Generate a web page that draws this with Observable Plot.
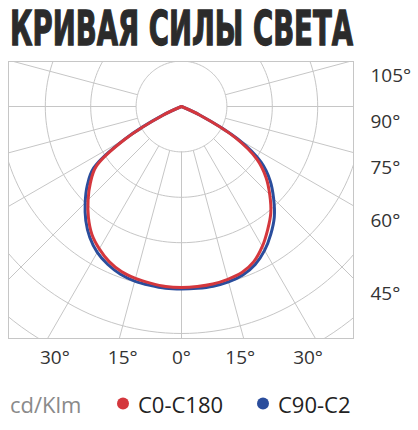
<!DOCTYPE html>
<html><head><meta charset="utf-8">
<script src="https://cdn.jsdelivr.net/npm/d3@7"></script>
<script src="https://cdn.jsdelivr.net/npm/@observablehq/plot@0.6"></script>
<style>
body{margin:0;background:#fff;}
svg{display:block}
</style></head><body>
<svg id="title" width="418" height="55"></svg>
<div id="chart"></div>
<svg id="legend" width="418" height="55"></svg>
<script>
// ---- data (cd/klm), angles from nadir in degrees ----
const titleText = "КРИВАЯ СИЛЫ СВЕТА";
const unitLabel = "cd/Klm";
const seriesNames = ["C0-C180", "C90-C2"];
const seriesColors = ["#d4373d", "#2a4d9c"];
const angles = [0, 5, 10, 15, 20, 25, 30, 35, 40, 45, 50, 55, 60, 65, 70];
const c0   = [398, 398, 397, 394, 389, 377, 356, 331, 306, 275, 243, 203, 137, 44, 0];
const c180 = [399, 398, 395, 392, 387, 377, 362, 344, 319, 291, 262, 229, 143, 44, 0];
const c90  = [402, 402, 402, 400, 395, 384, 366, 343, 318, 287, 255, 214, 143, 44, 0];
const c270 = [402, 402, 400, 398, 393, 384, 371, 352, 328, 300, 271, 236, 145, 44, 0];
const gridRadii = [100, 200, 300, 400, 500, 600, 700];
const spokeAngles = [-105, -90, -75, -60, -45, -30, -15, 0, 15, 30, 45, 60, 75, 90, 105];
const rightLabels = [105, 90, 75, 60, 45];
const bottomLabels = [-30, -15, 0, 15, 30];

const rad = Math.PI / 180;
const pol = (a, v) => ({x: v * Math.sin(a * rad), y: -v * Math.cos(a * rad)});

function curve(left, right) {
  const pts = [];
  for (let i = angles.length - 1; i >= 1; i--) pts.push(pol(-angles[i], left[i]));
  pts.push(pol(0, (left[0] + right[0]) / 2));
  for (let i = 1; i < angles.length; i++) pts.push(pol(angles[i], right[i]));
  return pts;
}
const redPts = curve(c180, c0);
const bluePts = curve(c270, c90);

const circles = gridRadii.flatMap(r => d3.range(0, 361, 2).map(t => ({r, ...pol(t, r)})));
const spokes = spokeAngles.map(a => ({a, p1: pol(a, 100), p2: pol(a, 900)}));

// scale: 100 cd/klm ring = 45.4 px
const k = 0.454;
const xDomain = [-173 / k, 172 / k];
const yDomain = [-232 / k, 45 / k];

const chart = Plot.plot({
  width: 418, height: 320,
  marginTop: 6, marginBottom: 37, marginLeft: 8, marginRight: 65,
  x: {domain: xDomain, axis: null},
  y: {domain: yDomain, axis: null},
  style: {fontFamily: "'Open Sans', sans-serif", background: "white", overflow: "visible"},
  marks: [
    Plot.line(circles, {x: "x", y: "y", z: "r", stroke: "#c6c6c6", strokeWidth: 1, clip: true}),
    Plot.link(spokes, {x1: d => d.p1.x, y1: d => d.p1.y, x2: d => d.p2.x, y2: d => d.p2.y, stroke: "#c6c6c6", strokeWidth: 1, clip: true}),
    Plot.frame({stroke: "#c6c6c6"}),
    Plot.line(bluePts, {x: "x", y: "y", stroke: seriesColors[1], strokeWidth: 3, curve: "catmull-rom", clip: true}),
    Plot.line(redPts, {x: "x", y: "y", stroke: seriesColors[0], strokeWidth: 3, curve: "catmull-rom", clip: true}),
    Plot.text(rightLabels, {
      x: () => xDomain[1],
      y: a => -xDomain[1] * Math.cos(a * rad) / Math.sin(a * rad),
      text: a => `${a}°`, textAnchor: "start", dx: 17, dy: 15, fontSize: 19, fill: "#333"
    }),
    Plot.text(bottomLabels, {
      x: a => -yDomain[0] * 0.945 * Math.tan(a * rad),
      y: () => yDomain[0],
      text: a => `${Math.abs(a)}°`, textAnchor: "middle", dy: 19, fontSize: 19, fill: "#333"
    })
  ]
});
document.getElementById("chart").appendChild(chart);

// title
d3.select("#title").append("text")
  .attr("transform", "translate(10,45) scale(1,1.6)")
  .attr("textLength", 343).attr("lengthAdjust", "spacingAndGlyphs")
  .attr("font-family", "'DejaVu Sans Condensed', 'DejaVu Sans', sans-serif")
  .attr("font-weight", "bold").attr("font-size", 30)
  .attr("fill", "#2b2b2b").attr("stroke", "#2b2b2b").attr("stroke-width", 0.8)
  .text(titleText);

// legend
const lg = d3.select("#legend").attr("font-family", "'Open Sans', sans-serif").attr("font-size", 22);
lg.append("text").attr("x", 10).attr("y", 38).attr("fill", "#8a8a8a").text(unitLabel);
const items = [{x: 123}, {x: 263}];
seriesNames.forEach((name, i) => {
  lg.append("circle").attr("cx", items[i].x).attr("cy", 28.5).attr("r", 6).attr("fill", seriesColors[i]);
  lg.append("text").attr("x", items[i].x + 15).attr("y", 38).attr("fill", "#222").text(name);
});
</script>
</body></html>
